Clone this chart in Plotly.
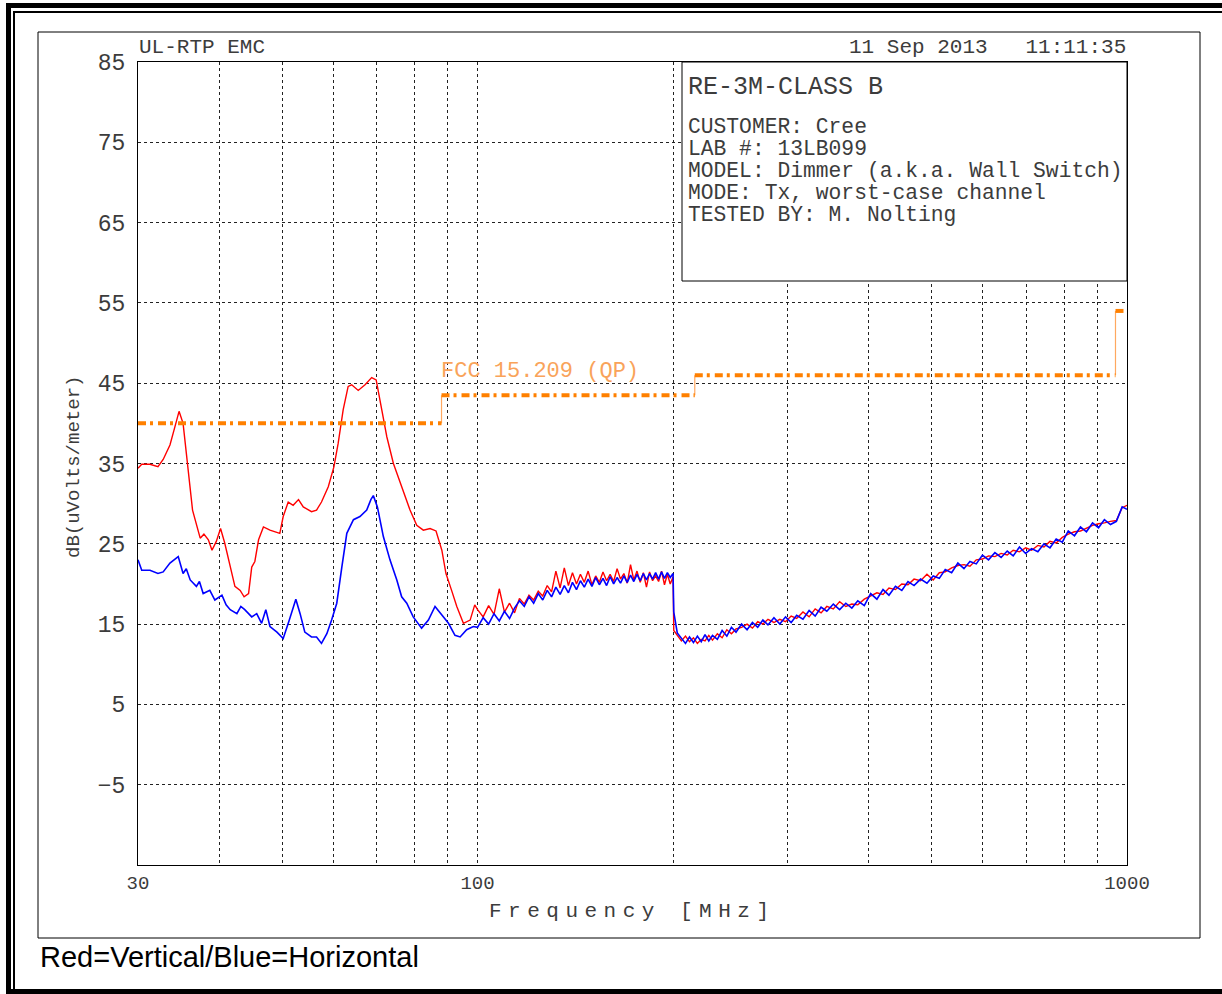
import math
import plotly.graph_objects as go

# ---------------- data ----------------
# Vertical polarisation (red), 30-100 MHz
RED_LF_F = [30.0, 30.4, 31.3, 32.2, 32.8, 33.6, 34.2, 34.7, 35.2, 35.7, 36.4, 37.4, 37.9, 38.5,
            39.0, 39.6, 40.2, 40.8, 41.6, 42.3, 43.1, 43.7, 44.4, 44.9, 45.4, 46.0, 46.8, 47.9,
            49.6, 50.2, 51.1, 52.0, 53.0, 53.9, 55.5, 56.5, 57.5, 58.9, 60.1, 61.0, 62.1, 63.2,
            64.0, 65.5, 67.1, 68.7, 69.8, 70.9, 72.5, 74.2, 76.4, 78.7, 80.6, 82.5, 84.5, 86.3,
            88.1, 89.4, 91.2, 92.9, 95.1, 97.4, 99.0]
RED_LF_DB = [34.4, 34.9, 34.9, 34.6, 35.5, 37.3, 39.6, 41.5, 40.0, 35.4, 29.2, 25.7, 26.2, 25.5,
             24.2, 25.3, 26.9, 25.1, 22.1, 19.7, 19.2, 18.4, 18.8, 22.1, 22.8, 25.5, 27.1, 26.7,
             26.3, 28.4, 30.2, 29.8, 30.5, 29.6, 29.0, 29.2, 30.2, 32.1, 34.6, 37.5, 41.7, 44.6,
             44.8, 44.1, 44.8, 45.7, 45.4, 42.5, 38.3, 35.0, 32.1, 29.2, 27.3, 26.7, 26.9, 26.6,
             24.2, 21.3, 19.2, 17.2, 15.1, 15.5, 17.4]

# Horizontal polarisation (blue), 30-100 MHz
BLUE_LF_F = [30.0, 30.4, 31.3, 32.2, 32.8, 33.6, 34.6, 35.2, 35.6, 36.1, 36.9, 37.3, 37.8, 38.7,
             39.4, 40.4, 41.0, 41.6, 42.6, 43.2, 43.8, 44.9, 45.7, 46.5, 47.2, 47.9, 49.1, 50.2,
             51.3, 52.5, 53.3, 54.2, 55.5, 56.5, 57.5, 58.6, 59.6, 60.7, 61.8, 62.9, 64.4, 65.9,
             67.5, 68.5, 69.1, 70.1, 71.6, 73.3, 75.1, 76.4, 77.8, 79.6, 82.0, 84.0, 86.0, 88.1,
             90.2, 92.3, 94.0, 96.2, 98.5]
BLUE_LF_DB = [23.0, 21.7, 21.7, 21.3, 21.5, 22.6, 23.4, 21.3, 21.9, 20.5, 19.7, 20.3, 18.8, 19.2,
              18.0, 18.6, 17.4, 16.8, 16.3, 17.2, 16.8, 15.9, 16.3, 15.1, 16.8, 14.7, 14.0, 13.2,
              15.5, 18.1, 16.3, 14.0, 13.4, 13.4, 12.6, 13.8, 15.5, 17.6, 22.1, 26.3, 28.0, 28.4,
              29.2, 30.5, 31.0, 29.6, 25.9, 23.0, 20.5, 18.4, 17.6, 15.9, 14.5, 15.5, 17.2, 16.1,
              15.1, 13.6, 13.4, 14.3, 14.7]

# 100-1000 MHz, common frequency points for both polarisations
HF_F = [100, 102, 104, 106, 108, 110, 112, 114, 116, 118, 120, 122, 124, 126, 128, 130, 132, 134,
        136, 138, 140, 142, 144, 146, 148, 150, 152, 154, 156, 158, 160, 162, 164, 166, 168, 170,
        172, 174, 176, 178, 180, 182, 184, 186, 188, 190, 192, 194, 196, 198, 200,
        200.5, 203, 206, 209, 212, 215, 218, 221, 224, 227, 230, 234, 238, 242, 246, 250, 255, 260,
        265, 270, 275, 280, 286, 292, 298, 304, 310, 317, 324, 331, 338, 345, 353, 361, 369, 377,
        385, 394, 403, 412, 421, 430, 440, 450, 460, 470, 481, 492, 503, 514, 525, 537, 549, 561,
        573, 586, 599, 612, 626, 640, 654, 668, 683, 698, 713, 729, 745, 761, 778, 795, 812, 830,
        848, 866, 885, 904, 923, 943, 963, 983, 1000]
RED_HF_DB = [16.8, 15.9, 17.3, 16.2, 19.4, 16.5, 17.6, 16.4, 18.2, 17.5, 18.6, 18.0, 19.1, 18.5,
             19.8, 19.0, 21.6, 19.5, 22.0, 19.8, 21.4, 20.0, 21.2, 20.2, 21.6, 19.9, 21.0, 20.2,
             21.5, 20.4, 21.2, 20.3, 21.9, 20.6, 21.3, 20.1, 22.4, 20.5, 21.6, 20.2, 21.4, 19.6,
             21.5, 20.4, 21.0, 20.3, 21.6, 19.9, 21.2, 20.0, 20.9,
             14.2, 13.6, 12.9, 13.5, 12.8, 13.3, 12.6, 13.1, 12.9, 13.6, 13.0, 13.8, 13.3, 14.3,
             13.8, 14.4, 14.6, 15.0, 14.5, 15.3, 15.0, 15.6, 15.2, 15.6, 15.3, 16.0, 15.7, 16.5,
             15.9, 16.9, 16.4, 17.2, 16.9, 17.8, 17.2, 17.5, 17.4, 18.1, 18.5, 18.9, 18.7, 19.5,
             19.3, 20.0, 19.9, 20.6, 20.4, 21.2, 20.5, 21.4, 21.5, 22.0, 22.3, 22.4, 22.2, 23.0,
             23.1, 23.5, 23.4, 23.8, 23.6, 24.2, 24.0, 24.5, 24.2, 24.8, 24.6, 25.3, 25.1, 25.8,
             26.2, 26.5, 26.6, 26.9, 27.3, 27.5, 27.6, 27.8, 27.9, 29.5, 29.8]
BLUE_HF_DB = [14.6, 15.8, 15.0, 16.3, 15.4, 16.6, 15.7, 17.0, 17.9, 17.2, 18.4, 17.6, 18.8, 18.0,
              19.2, 18.4, 19.6, 18.7, 19.8, 18.9, 20.2, 19.3, 20.4, 19.6, 20.6, 19.7, 20.8, 19.9,
              20.7, 19.8, 20.9, 20.0, 20.8, 20.1, 21.0, 20.2, 21.1, 20.3, 21.2, 20.4, 21.3, 20.5,
              21.3, 20.6, 21.4, 20.6, 21.5, 20.7, 21.4, 20.8, 21.3,
              16.5, 13.9, 13.2, 12.6, 13.4, 12.7, 13.5, 12.8, 13.7, 12.9, 13.6, 13.1, 14.2, 13.5,
              14.6, 14.0, 15.0, 14.3, 15.2, 14.6, 15.5, 14.9, 15.8, 15.0, 15.9, 15.2, 16.1, 15.6,
              16.7, 16.0, 17.1, 16.6, 17.5, 16.8, 17.6, 17.0, 17.9, 17.3, 18.8, 18.1, 19.3, 18.6,
              19.7, 19.2, 20.3, 19.8, 20.6, 20.1, 21.0, 20.7, 21.8, 21.4, 22.6, 21.9, 22.8, 22.5,
              23.6, 23.0, 23.9, 23.3, 24.1, 23.5, 24.6, 23.8, 24.4, 24.0, 25.0, 24.5, 25.6, 25.2,
              26.6, 26.0, 27.1, 26.5, 27.6, 27.0, 28.0, 27.4, 27.8, 29.6, 29.3]

# FCC 15.209 (QP) limit
LIMIT_F = [30, 88, 88, 216, 216, 960, 960, 1000]
LIMIT_DB = [40, 40, 43.5, 43.5, 46, 46, 54, 54]

X_GRID = [30, 40, 50, 60, 70, 80, 90, 100, 200, 300, 400, 500, 600, 700, 800, 900, 1000]
X_LABELS = ["30", "", "", "", "", "", "", "100", "", "", "", "", "", "", "", "", "1000"]
Y_TICKS = [-5, 5, 15, 25, 35, 45, 55, 65, 75, 85]
Y_LABELS = ["\u22125", "5", "15", "25", "35", "45", "55", "65", "75", "85"]

INFO_LINES = ["CUSTOMER: Cree", "LAB #: 13LB099", "MODEL: Dimmer (a.k.a. Wall Switch)",
              "MODE: Tx, worst-case channel", "TESTED BY: M. Nolting"]

# ---------------- layout geometry (pixels) ----------------
W, H = 1222, 994
PL, PR, PT, PB = 138, 1127, 62, 865


def px(x):
    return (x - PL) / (PR - PL)


def py(y):
    return (PB - y) / (PB - PT)


MONO = "Liberation Mono, DejaVu Sans Mono, monospace"
GREY = "#3c3c3c"
ORANGE = "#FF8000"

fig = go.Figure()

fig.add_trace(go.Scatter(x=RED_LF_F + HF_F, y=RED_LF_DB + RED_HF_DB, mode="lines",
                         line=dict(color="#FF0000", width=1.4), showlegend=False))
fig.add_trace(go.Scatter(x=BLUE_LF_F + HF_F, y=BLUE_LF_DB + BLUE_HF_DB, mode="lines",
                         line=dict(color="#0000FF", width=1.6), showlegend=False))

# limit: thick horizontal steps + thin vertical connectors
hx, hy, vx, vy = [], [], [], []
for i in range(0, len(LIMIT_F), 2):
    hx += [LIMIT_F[i], LIMIT_F[i + 1], None]
    hy += [LIMIT_DB[i], LIMIT_DB[i + 1], None]
for i in range(1, len(LIMIT_F) - 1, 2):
    vx += [LIMIT_F[i], LIMIT_F[i + 1], None]
    vy += [LIMIT_DB[i], LIMIT_DB[i + 1], None]
fig.add_trace(go.Scatter(x=vx, y=vy, mode="lines", line=dict(color="#FFA860", width=1.2),
                         showlegend=False))
fig.add_trace(go.Scatter(x=hx, y=hy, mode="lines",
                         line=dict(color=ORANGE, width=4, dash="8px,4px,3px,5px"),
                         showlegend=False))

shapes = []
# outer heavy frame
shapes.append(dict(type="rect", xref="paper", yref="paper", x0=px(6), x1=px(1222), y0=py(3), y1=py(8),
                   fillcolor="black", line=dict(width=0), layer="above"))
shapes.append(dict(type="rect", xref="paper", yref="paper", x0=px(6), x1=px(11), y0=py(3), y1=py(994),
                   fillcolor="black", line=dict(width=0), layer="above"))
shapes.append(dict(type="rect", xref="paper", yref="paper", x0=px(6), x1=px(1222), y0=py(989), y1=py(994),
                   fillcolor="black", line=dict(width=0), layer="above"))
shapes.append(dict(type="line", xref="paper", yref="paper", x0=px(13), x1=px(1222), y0=py(12), y1=py(12),
                   line=dict(color="black", width=2), layer="above"))
shapes.append(dict(type="line", xref="paper", yref="paper", x0=px(14), x1=px(14), y0=py(12), y1=py(990),
                   line=dict(color="black", width=2), layer="above"))
# inner frame
shapes.append(dict(type="rect", xref="paper", yref="paper", x0=px(38), x1=px(1200), y0=py(32), y1=py(938),
                   line=dict(color="black", width=1), layer="above"))
# info box
shapes.append(dict(type="rect", xref="paper", yref="paper", x0=px(682), x1=px(1127), y0=py(62), y1=py(281),
                   fillcolor="white", line=dict(color="black", width=1), layer="above"))

annotations = []


def txt(text, x, y, size, xanchor="left", color=GREY, family=MONO, textangle=0):
    annotations.append(dict(text=text, x=px(x), y=py(y), xref="paper", yref="paper",
                            xanchor=xanchor, yanchor="middle", showarrow=False,
                            textangle=textangle,
                            font=dict(family=family, size=size, color=color)))


txt("UL-RTP EMC", 137, 48, 21)
txt("11 Sep 2013   11:11:35", 1128, 48, 21, xanchor="right")
txt("RE-3M-CLASS B", 686, 87, 25)
for i, line in enumerate(INFO_LINES):
    txt(line, 686, 127 + i * 22, 21.3)
txt("FCC 15.209 (QP)", 439, 371, 22, color="#F9A35A")
txt('<span style="letter-spacing:6.5px">Frequency [MHz]</span>', 632, 911, 21, xanchor="center")
txt("dB(uVolts/meter)", 74, 467, 19, xanchor="center", textangle=-90)
txt("Red=Vertical/Blue=Horizontal", 38, 957, 29, color="black", family="Liberation Sans, Arial")

fig.update_layout(
    width=W, height=H, autosize=False,
    margin=dict(l=PL, r=W - PR, t=PT, b=H - PB, pad=0),
    paper_bgcolor="white", plot_bgcolor="white",
    shapes=shapes, annotations=annotations, showlegend=False,
    xaxis=dict(type="log", range=[math.log10(30), 3], tickvals=X_GRID, ticktext=X_LABELS,
               showgrid=True, gridcolor="#222", gridwidth=1, griddash="3px,3px",
               showline=True, mirror=True, linecolor="black", linewidth=1, ticks="",
               zeroline=False, ticklabelstandoff=0,
               tickfont=dict(family=MONO, size=19, color=GREY)),
    yaxis=dict(range=[-15, 85], tickvals=Y_TICKS, ticktext=Y_LABELS,
               showgrid=True, gridcolor="#222", gridwidth=1, griddash="3px,3px",
               showline=True, mirror=True, linecolor="black", linewidth=1, ticks="",
               zeroline=False, ticklabelstandoff=7,
               tickfont=dict(family=MONO, size=23, color=GREY)),
)

fig.write_html("out.html", config={"displayModeBar": False},
               post_script="document.body.style.margin='0';document.body.style.overflow='hidden';")
